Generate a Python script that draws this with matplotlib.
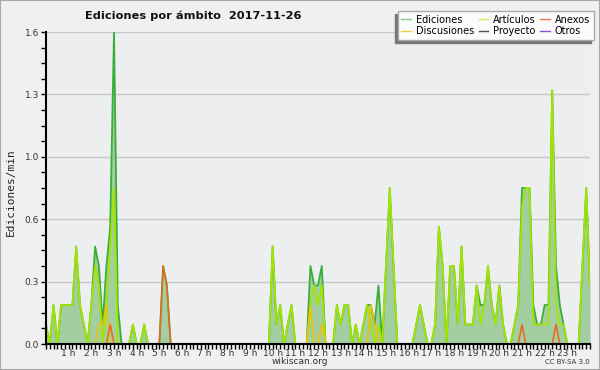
import matplotlib
matplotlib.use("Agg")
import matplotlib.pyplot as plt
from matplotlib.lines import Line2D
from matplotlib.patches import Rectangle
import numpy as np

# values per 10 minutes (edits/min), 0h00 .. 24h00
ediciones = [
    0.1, 0, 0.2, 0, 0.2, 0.2,
    0.2, 0.2, 0.5, 0.2, 0.1, 0,
    0.2, 0.5, 0.4, 0.1, 0.4, 0.6,
    1.6, 0.2, 0, 0, 0, 0.1,
    0, 0, 0.1, 0, 0, 0,
    0, 0.4, 0.3, 0, 0, 0,
    0, 0, 0, 0, 0, 0,
    0, 0, 0, 0, 0, 0,
    0, 0, 0, 0, 0, 0,
    0, 0, 0, 0, 0, 0,
    0.5, 0.1, 0.2, 0, 0.1, 0.2,
    0, 0, 0, 0, 0.4, 0.3,
    0.3, 0.4, 0, 0, 0, 0.2,
    0.1, 0.2, 0.2, 0, 0.1, 0,
    0.1, 0.2, 0.2, 0.1, 0.3, 0,
    0.4, 0.8, 0.4, 0, 0, 0,
    0, 0, 0.1, 0.2, 0.1, 0,
    0, 0.1, 0.6, 0.4, 0, 0.4,
    0.4, 0.1, 0.5, 0.1, 0.1, 0.1,
    0.3, 0.2, 0.2, 0.4, 0.2, 0.1,
    0.3, 0.1, 0, 0, 0.1, 0.2,
    0.8, 0.8, 0.8, 0.2, 0.1, 0.1,
    0.2, 0.2, 1.3, 0.4, 0.2, 0.1,
    0, 0, 0, 0, 0.4, 0.8,
    0.3,
]
articulos = [
    0.1, 0, 0.2, 0, 0.2, 0.2,
    0.2, 0.2, 0.5, 0.2, 0.1, 0,
    0.2, 0.4, 0.3, 0, 0.2, 0.5,
    0.8, 0, 0, 0, 0, 0.1,
    0, 0, 0.1, 0, 0, 0,
    0, 0, 0, 0, 0, 0,
    0, 0, 0, 0, 0, 0,
    0, 0, 0, 0, 0, 0,
    0, 0, 0, 0, 0, 0,
    0, 0, 0, 0, 0, 0,
    0.5, 0.1, 0.2, 0, 0.1, 0.2,
    0, 0, 0, 0, 0.2, 0.3,
    0.2, 0.3, 0, 0, 0, 0.2,
    0.1, 0.2, 0.2, 0, 0.1, 0,
    0.1, 0.2, 0.1, 0, 0.1, 0,
    0.4, 0.8, 0.4, 0, 0, 0,
    0, 0, 0.1, 0.2, 0.1, 0,
    0, 0.1, 0.6, 0.4, 0, 0.4,
    0.4, 0.1, 0.5, 0.1, 0.1, 0.1,
    0.3, 0.1, 0.2, 0.4, 0.2, 0.1,
    0.3, 0.1, 0, 0, 0.1, 0.2,
    0.7, 0.8, 0.8, 0.1, 0.1, 0.1,
    0.1, 0.1, 1.3, 0.2, 0.1, 0.1,
    0, 0, 0, 0, 0.4, 0.8,
    0.3,
]
discusiones = [
    0, 0, 0, 0, 0, 0,
    0, 0, 0, 0, 0, 0,
    0, 0, 0.1, 0.1, 0.2, 0,
    0, 0, 0, 0, 0, 0,
    0, 0, 0, 0, 0, 0,
    0, 0, 0, 0, 0, 0,
    0, 0, 0, 0, 0, 0,
    0, 0, 0, 0, 0, 0,
    0, 0, 0, 0, 0, 0,
    0, 0, 0, 0, 0, 0,
    0, 0, 0, 0, 0, 0,
    0, 0, 0, 0, 0.2, 0,
    0, 0.1, 0, 0, 0, 0,
    0, 0, 0, 0, 0, 0,
    0, 0, 0.2, 0.1, 0, 0,
    0, 0, 0, 0, 0, 0,
    0, 0, 0, 0, 0, 0,
    0, 0, 0, 0, 0, 0,
    0, 0, 0, 0, 0, 0,
    0, 0, 0, 0, 0, 0,
    0, 0, 0, 0, 0, 0,
    0, 0, 0, 0, 0, 0,
    0, 0, 0, 0, 0, 0,
    0, 0, 0, 0, 0, 0,
    0,
]
anexos = [
    0, 0, 0, 0, 0, 0,
    0, 0, 0, 0, 0, 0,
    0, 0, 0, 0, 0, 0.1,
    0, 0, 0, 0, 0, 0,
    0, 0, 0, 0, 0, 0,
    0, 0.4, 0.3, 0, 0, 0,
    0, 0, 0, 0, 0, 0,
    0, 0, 0, 0, 0, 0,
    0, 0, 0, 0, 0, 0,
    0, 0, 0, 0, 0, 0,
    0, 0, 0, 0, 0, 0,
    0, 0, 0, 0, 0, 0,
    0, 0, 0, 0, 0, 0,
    0, 0, 0, 0, 0, 0,
    0, 0, 0, 0, 0, 0,
    0, 0, 0, 0, 0, 0,
    0, 0, 0, 0, 0, 0,
    0, 0, 0, 0, 0, 0,
    0, 0, 0, 0, 0, 0,
    0, 0, 0, 0, 0, 0,
    0, 0, 0, 0, 0, 0,
    0.1, 0, 0, 0, 0, 0,
    0, 0, 0, 0.1, 0, 0,
    0, 0, 0, 0, 0, 0,
    0,
]
hour_labels = ["%d h" % h for h in range(1, 24)]
y_ticks = [0, 0.32, 0.64, 0.96, 1.28, 1.6]

x = np.arange(len(ediciones)) / 6.0

fig = plt.figure(figsize=(6, 3.7), dpi=100, facecolor="#f0f0f0")
ax = fig.add_axes([46 / 600, 1 - 344 / 370, 544 / 600, 312 / 370])
ax.set_facecolor("#eceef0")

ax.fill_between(x, ediciones, 0, color="#a2cea2", lw=0, zorder=2)
ax.plot(x, ediciones, color="#3aae3a", lw=1.3, zorder=3)
ax.plot(x, articulos, color="#a4e400", lw=1.3, zorder=4)
ax.plot(x, discusiones, color="#f2c200", lw=1.1, zorder=5)
ax.plot(x, anexos, color="#f0641e", lw=1.1, zorder=6)

ax.set_xlim(0, 24)
ax.set_ylim(0, 1.6)
ax.set_yticks(y_ticks)
ax.set_yticklabels(["%.1f" % v for v in y_ticks])
ax.set_yticks(np.arange(0, 1.61, 0.08), minor=True)
ax.set_xticks(range(1, 24))
ax.set_xticklabels(hour_labels)
ax.set_xticks(np.arange(0, 24.01, 1 / 6), minor=True)
ax.tick_params(axis="both", which="both", direction="out", length=3.5, width=1,
               color="black", labelsize=6.5, labelcolor="#333333", pad=0.3)
ax.tick_params(axis="y", pad=1.5)
ax.grid(True, axis="y", color="#c8c8c8", lw=1, zorder=1)
for s in ["top", "right"]:
    ax.spines[s].set_visible(False)
for s in ["left", "bottom"]:
    ax.spines[s].set_linewidth(1.5)
    ax.spines[s].set_zorder(7)

fig.text(11 / 600, 1 - 192 / 370, "Ediciones/min", rotation=90, ha="center",
         va="center", fontsize=8, family="DejaVu Sans Mono", color="#222222")
fig.text(85 / 600, 1 - 16 / 370, "Ediciones por ámbito  2017-11-26",
         fontsize=8.2, fontweight="bold", ha="left", va="center", color="#111111")
fig.text(300 / 600, 1 - 361.5 / 370, "wikiscan.org", fontsize=6.5, ha="center",
         va="center", color="#333333")
fig.text(590 / 600, 1 - 362 / 370, "CC BY-SA 3.0", fontsize=5, ha="right",
         va="center", color="#333333")

handles = [
    Line2D([], [], color="#7fcf7f", lw=1),
    Line2D([], [], color="#f8d040", lw=1),
    Line2D([], [], color="#c8ee50", lw=1),
    Line2D([], [], color="#555555", lw=1),
    Line2D([], [], color="#ee7744", lw=1),
    Line2D([], [], color="#9050e0", lw=1),
]
names = ["Ediciones", "Discusiones", "Artículos", "Proyecto", "Anexos", "Otros"]
leg = fig.legend(handles, names, ncol=3, loc="upper right",
                 bbox_to_anchor=(594 / 600, 1 - 11 / 370), fontsize=7,
                 frameon=True, fancybox=False, edgecolor="#aaaaaa",
                 facecolor="#fbfbfb", framealpha=1, handlelength=1.0,
                 handletextpad=0.5, columnspacing=0.45, labelspacing=0.12,
                 borderpad=0.4, borderaxespad=0)
fig.canvas.draw()
bb = leg.get_window_extent()
fig.patches.append(Rectangle((bb.x0 - 3, bb.y0 - 3), bb.width, bb.height,
                             transform=None, color="#777777", zorder=4))

fig.patches.append(Rectangle((0, 0), 1, 1, transform=fig.transFigure,
                             fill=False, edgecolor="#aaaaaa", lw=1.5, zorder=10))

fig.savefig("out.png", dpi=100, facecolor=fig.get_facecolor())
